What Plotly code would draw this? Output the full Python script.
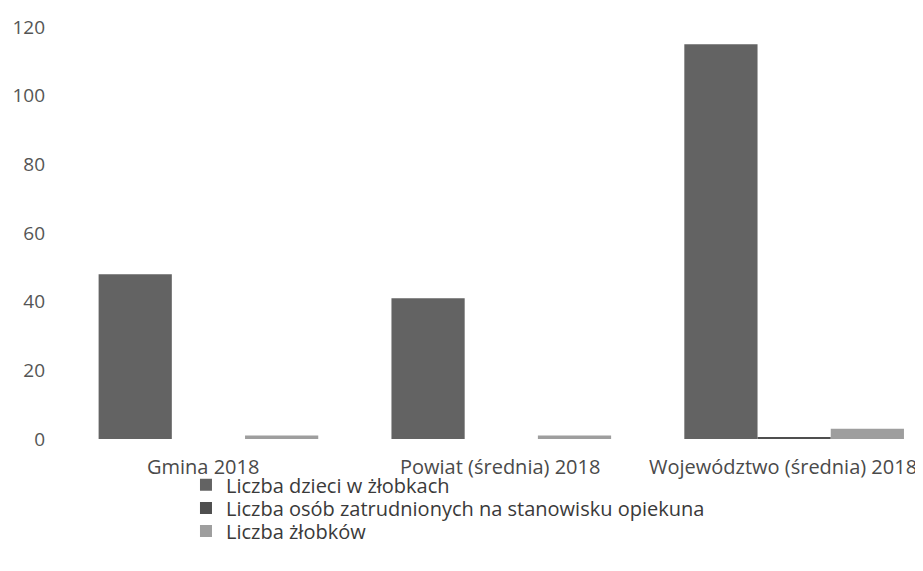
import plotly.graph_objects as go

# ----------------------------------------------------------------------------------------------------------------------
#  DATA
# ----------------------------------------------------------------------------------------------------------------------
categories = ["Gmina 2018", "Powiat (średnia) 2018", "Województwo (średnia) 2018"]
series_names = ["Liczba dzieci w żłobkach",
                "Liczba osób zatrudnionych na stanowisku opiekuna",
                "Liczba żłobków"]
dzieci = [48, 41, 115]
opiekunowie = [0, 0, 0.6]
zlobki = [1, 1, 3]
y_ticks = [0, 20, 40, 60, 80, 100, 120]

colors = ["#636363", "#4f4f4f", "#9e9e9e"]

# ----------------------------------------------------------------------------------------------------------------------
#  PLOT
# ----------------------------------------------------------------------------------------------------------------------
fig = go.Figure()
legend_ids = ["legend", "legend2", "legend3"]
for name, vals, col, lg in zip(series_names, [dzieci, opiekunowie, zlobki], colors, legend_ids):
    fig.add_trace(go.Bar(x=categories, y=vals, name=name, legend=lg,
                         marker=dict(color=col, line=dict(width=0))))

# one legend per series so the rows can sit closer than plotly's default line spacing
legend_style = dict(x=0.144, xanchor="left", yanchor="top", orientation="v",
                    font=dict(size=20, color="#3a3a3a"),
                    itemwidth=30, bgcolor="rgba(0,0,0,0)")

# category labels drawn as annotations so the last one can be nudged inside the page
label_shift = [-5, -1, -11]
annotations = [dict(x=c, y=0, xref="x", yref="paper", xshift=s, yshift=-27,
                    text=c, showarrow=False, xanchor="center", yanchor="middle",
                    font=dict(size=20, color="#4a4a4a"))
               for c, s in zip(categories, label_shift)]

# the page body has an 8px default margin, so the figure is a little smaller than the window
fig.update_layout(
    width=915, height=563,
    margin=dict(l=54, r=0, t=19, b=132, autoexpand=False),
    paper_bgcolor="white", plot_bgcolor="white",
    font=dict(family="Open Sans, Noto Sans, sans-serif", color="#444444", size=20),
    barmode="group", bargap=0.25, bargroupgap=0,
    showlegend=True,
    legend=dict(legend_style, y=-0.064),
    legend2=dict(legend_style, y=-0.120),
    legend3=dict(legend_style, y=-0.176),
    annotations=annotations,
)
fig.update_xaxes(range=[-0.5, 2.44], showgrid=False, zeroline=False, showline=False,
                 ticks="", showticklabels=False)
fig.update_yaxes(range=[0, 120], tickvals=y_ticks, showgrid=False, zeroline=False,
                 showline=False, ticks="", ticklabelstandoff=16,
                 tickfont=dict(size=19, color="#555555"))

fig.write_html("out.html")
